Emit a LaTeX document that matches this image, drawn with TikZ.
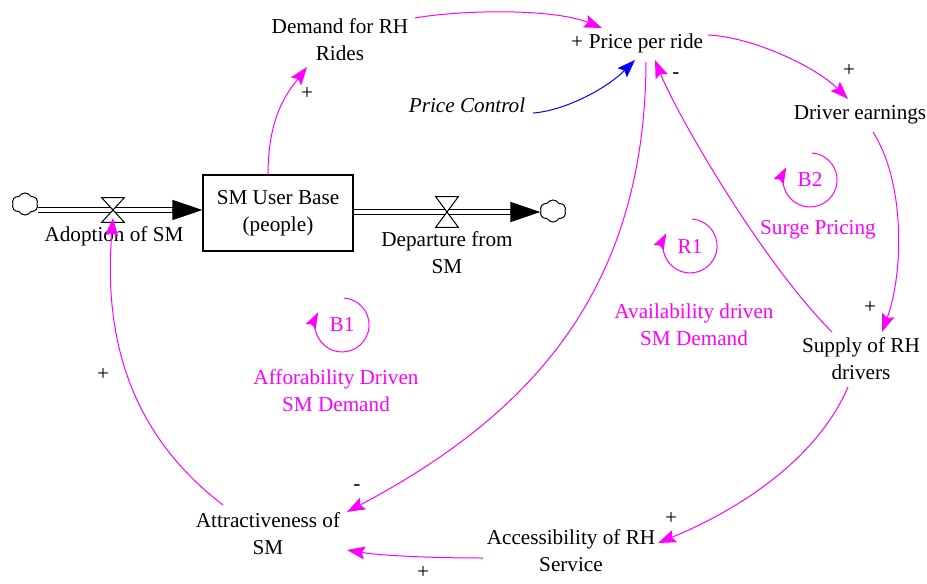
\documentclass[tikz,border=0pt]{standalone}
\usepackage{fontspec}
\setmainfont{Liberation Serif}
\usetikzlibrary{calc}
\usetikzlibrary{arrows.meta}
\usetikzlibrary{shapes.symbols}

\definecolor{linkmag}{RGB}{255,0,255}
\definecolor{linkblue}{RGB}{0,0,255}
\newcommand{\cldsize}{\fontsize{10.6pt}{13.5pt}\selectfont}

\tikzset{
  var/.style={align=center, inner sep=1pt, font=\cldsize},
  stockbox/.style={draw, line width=0.6pt, fill=white, align=center, font=\cldsize,
    minimum width=75pt, minimum height=38pt, inner sep=1pt},
  sky/.style={cloud, cloud puffs=6, cloud puff arc=120, draw, line width=0.5pt,
    inner sep=0pt, minimum width=13pt, minimum height=11pt},
  valve/.style={inner sep=0pt, minimum width=11pt},
  valveline/.style={draw, fill=white, line width=0.5pt},
  pipe/.style={draw, line width=0.7pt, double=white, double distance=1.6pt},
  pipehead/.style={line width=0.7pt, -{Triangle[length=15pt,width=10pt]}},
  link/.style={draw=linkmag, line width=0.5pt, -{Stealth[length=9pt,width=6.5pt,inset=1.5pt]}},
  sign/.style={inner sep=0pt, font=\cldsize},
  loopname/.style={inner sep=0pt, font=\cldsize, text=linkmag},
  looptext/.style={align=center, inner sep=1pt, font=\cldsize, text=linkmag},
  looparc/.style={draw=linkmag, line width=0.5pt, -{Stealth[length=8pt,width=5.5pt,inset=1pt]}}
}

\begin{document}
\begin{tikzpicture}[x=0.5pt, y=-0.5pt]
\useasboundingbox (0,0) rectangle (927,584);

% variables
\node[var] (demand) at (340,40) {Demand for RH\\Rides};
\node[var] (price) at (646,43) {Price per ride};
\node[var, font=\cldsize\itshape] (control) at (467,105) {Price Control};
\node[var] (earnings) at (860,115) {Driver earnings};
\node[var] (supply) at (861,359) {Supply of RH\\drivers};
\node[var] (access) at (571,551) {Accessibility of RH\\Service};
\node[var] (attract) at (268,534) {Attractiveness of\\SM};

% stock and flows
\node[stockbox] (base) at (278,213) {SM User Base\\(people)};
\node[sky] (skyL) at (25,204) {};
\node[sky] (skyR) at (553,211) {};
\node[valve, minimum height=12pt] (adoptvalve) at (113,210) {};
\node[valve, minimum height=15pt] (departvalve) at (447,212) {};
\node[var] (adoption) at (114,236) {Adoption of SM};
\node[var] (departure) at (447,253) {Departure from\\SM};

\coordinate (inL) at (skyL.east |- adoptvalve);
\coordinate (inR) at (adoptvalve -| base.west);
\coordinate (outL) at (base.east |- departvalve);
\coordinate (outR) at (skyR.west |- departvalve);

\draw[pipe] (inL) -- ([xshift=-13pt]inR);
\draw[pipehead] ([xshift=-15pt]inR) -- (inR);
\draw[pipe] (outL) -- ([xshift=-13pt]outR);
\draw[pipehead] ([xshift=-15pt]outR) -- (outR);

\draw[valveline] (adoptvalve.north west) -- (adoptvalve.north east) -- (adoptvalve.south west) -- (adoptvalve.south east) -- cycle;
\draw[valveline] (departvalve.north west) -- (departvalve.north east) -- (departvalve.south west) -- (departvalve.south east) -- cycle;

% links
\draw[link] ($(base)+(-10,-38)$) .. controls +(0,-60) and +(-19,25) .. ($(demand)+(-33,27)$);
\draw[link] ($(demand)+(75,-22)$) .. controls +(45,-8) and +(-50,-20) .. ($(price)+(-44,-15)$);
\draw[link, draw=linkblue] ($(control)+(66,8)$) .. controls +(30,-2) and +(-30,30) .. ($(price)+(-11,17)$);
\draw[link] ($(price)+(62,-8)$) .. controls +(45,2) and +(-32,-32) .. ($(earnings)+(-12,-16)$);
\draw[link] ($(earnings)+(13,17)$) .. controls +(32,50) and +(22,-60) .. ($(supply)+(21,-27)$);
\draw[link] ($(supply)+(-29,-27)$) .. controls +(-70,-70) and +(22,55) .. ($(price)+(9,17)$);
\draw[link] ($(price)+(0,19)$) .. controls +(-1,238) and +(173,-92) .. ($(attract)+(79,-22)$);
\draw[link] ($(supply)+(-13,28)$) .. controls +(-30,70) and +(85,-35) .. ($(access)+(87,-8)$);
\draw[link] ($(access)+(-88,7)$) .. controls +(-60,0) and +(30,5) .. ($(attract)+(79,16)$);
\draw[link] ($(attract)+(-45,-29)$) .. controls +(-98,-75) and +(-9,112) .. ($(adoptvalve)+(0,8)$);

% polarities
\node[sign] (sdemand) at (307,94) {+};
\node[sign] (sprice) at (577,43) {+};
\node[sign] (searnings) at (849,71) {+};
\node[sign] (ssupply) at (870,308) {+};
\node[sign] (spricefb) at (676,76) {-};
\node[sign] (sattract) at (357,488) {-};
\node[sign] (saccess) at (671,519) {+};
\node[sign] (sattracttwo) at (423,573) {+};
\node[sign] (sadoption) at (103,375) {+};

% loops
\node[loopname] (bone) at (342,325) {B1};
\draw[looparc] ($(bone)+(2,-27)$) arc[start angle=-86, end angle=208, radius=27];
\node[loopname] (btwo) at (810,180) {B2};
\draw[looparc] ($(btwo)+(2,-27)$) arc[start angle=-86, end angle=208, radius=27];
\node[loopname] (rone) at (690,246) {R1};
\draw[looparc] ($(rone)+(2,-27)$) arc[start angle=-86, end angle=208, radius=27];

\node[looptext] (bonetext) at (336,391) {Afforability Driven\\SM Demand};
\node[looptext] (btwotext) at (818,230) {Surge Pricing};
\node[looptext] (ronetext) at (694,325) {Availability driven\\SM Demand};

\end{tikzpicture}
\end{document}
